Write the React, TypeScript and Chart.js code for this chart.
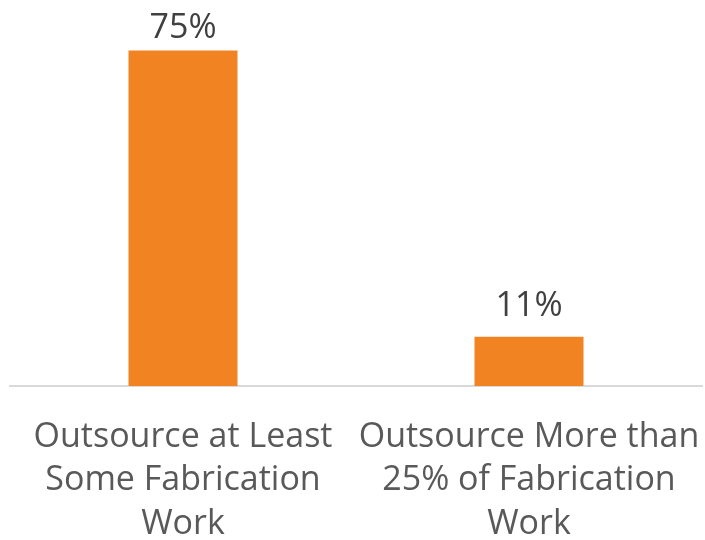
import React, { useEffect, useRef } from "react";
import { Chart, registerables } from "chart.js";

Chart.register(...registerables);

const categories: string[][] = [
  ["Outsource at Least", "Some Fabrication", "Work"],
  ["Outsource More than", "25% of Fabrication", "Work"],
];
const values: number[] = [75, 11];
const valueLabels: string[] = ["75%", "11%"];

const FONT = "'Open Sans', 'Noto Sans', sans-serif";

const dataLabelPlugin = {
  id: "dataLabels",
  afterDatasetsDraw(chart: any) {
    const ctx = chart.ctx;
    const meta = chart.getDatasetMeta(0);
    ctx.save();
    ctx.font = `34px ${FONT}`;
    ctx.fillStyle = "#404040";
    ctx.textAlign = "center";
    ctx.textBaseline = "alphabetic";
    meta.data.forEach((bar: any, i: number) => {
      const y = Math.max(bar.y - 21, 38);
      ctx.fillText(valueLabels[i], bar.x, y);
    });
    ctx.restore();
  },
};

export default function App() {
  const ref = useRef<HTMLCanvasElement>(null);
  useEffect(() => {
    if (!ref.current) return;
    const chart = new Chart(ref.current, {
      type: "bar",
      data: {
        labels: categories,
        datasets: [
          {
            data: values,
            backgroundColor: "#F28322",
            barPercentage: 0.315,
            categoryPercentage: 1,
          },
        ],
      },
      options: {
        animation: false,
        responsive: true,
        maintainAspectRatio: false,
        layout: { autoPadding: false, padding: { left: 10, right: 3, top: 28, bottom: 0 } },
        plugins: { legend: { display: false }, tooltip: { enabled: false } },
        scales: {
          y: { display: false, min: 0, max: 80 },
          x: {
            grid: { display: false },
            border: { color: "#D9D9D9", width: 2 },
            afterFit: (scale: any) => {
              scale.height = 154;
              scale.paddingLeft = 0;
              scale.paddingRight = 0;
            },
            ticks: {
              color: "#595959",
              font: { family: FONT, size: 34, lineHeight: 1.27 },
              padding: 22,
              maxRotation: 0,
              autoSkip: false,
            },
          },
        },
      },
      plugins: [dataLabelPlugin],
    });
    return () => chart.destroy();
  }, []);
  return (
    <div style={{ position: "fixed", left: 0, top: 0, width: 705, height: 540 }}>
      <canvas ref={ref} />
    </div>
  );
}
